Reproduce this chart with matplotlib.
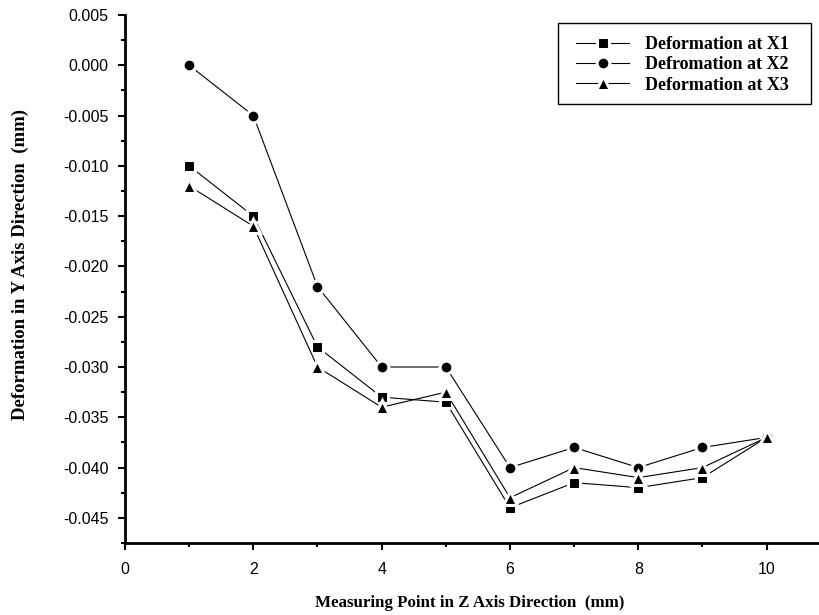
import matplotlib
matplotlib.use("Agg")
import matplotlib.pyplot as plt
from matplotlib.patches import Rectangle
from matplotlib.ticker import MultipleLocator

# measuring points along Z (mm)
z_points = [1, 2, 3, 4, 5, 6, 7, 8, 9, 10]

# deformation in Y (mm)
dx1 = [-0.010, -0.015, -0.028, -0.033, -0.0335, -0.044, -0.0415, -0.042, -0.041, -0.037]
dx2 = [0.000, -0.005, -0.022, -0.030, -0.030, -0.040, -0.038, -0.040, -0.038, -0.037]
dx3 = [-0.012, -0.016, -0.030, -0.034, -0.0325, -0.043, -0.040, -0.041, -0.040, -0.037]

labels = ["Deformation at X1", "Defromation at X2", "Deformation at X3"]
markers = ["s", "o", "^"]
sizes = [8.4, 9.2, 10.2]

serif = "Liberation Serif"
sans = "Liberation Sans"

fig = plt.figure(figsize=(8.2, 6.15), dpi=100)
ax = fig.add_axes([125 / 820, 1 - 543 / 615, (818 - 125) / 820, (543 - 15) / 615])

# white marker edges give the little gaps between lines and symbols
for ys, m, ms, lab in zip([dx1, dx2, dx3], markers, sizes, labels):
    ax.plot(z_points, ys, color="black", linewidth=0.8, marker=m,
            markersize=ms, markerfacecolor="black", markeredgecolor="white",
            markeredgewidth=2.2, label=lab)

ax.set_xlim(0, 10.8)
ax.set_ylim(-0.0475, 0.005)
ax.xaxis.set_major_locator(MultipleLocator(2))
ax.xaxis.set_minor_locator(MultipleLocator(1))
ax.yaxis.set_major_locator(MultipleLocator(0.005))
ax.yaxis.set_minor_locator(MultipleLocator(0.0025))
ax.yaxis.set_major_formatter(plt.FuncFormatter(lambda v, p: "%.3f" % v))

for s in ["top", "right"]:
    ax.spines[s].set_visible(False)
for s in ["left", "bottom"]:
    ax.spines[s].set_linewidth(2.0)

ax.tick_params(which="major", direction="out", length=5, width=1.5,
               labelsize=11.5)
ax.tick_params(axis="y", which="major", pad=7)
ax.tick_params(axis="x", which="major", pad=9)
ax.tick_params(which="minor", direction="out", length=3, width=1.5)
for t in ax.get_xticklabels() + ax.get_yticklabels():
    t.set_fontfamily(sans)

ax.set_xlabel("Measuring Point in Z Axis Direction  (mm)", fontfamily=serif,
              fontweight="bold", fontsize=12.2)
ax.set_ylabel("Deformation in Y Axis Direction  (mm)", fontfamily=serif,
              fontweight="bold", fontsize=13.5)
ax.xaxis.set_label_coords((470 - 125) / 693, -(603 - 543) / 528)
ax.yaxis.set_label_coords(-(125 - 20) / 693, (543 - 265) / 528)
ax.xaxis.label.set_va("center")
ax.yaxis.label.set_va("center")

# legend without its own frame; the box is drawn separately for the wider padding
leg = ax.legend(loc="upper left", bbox_to_anchor=(576 / 820, 1 - 36 / 615),
                bbox_transform=fig.transFigure, frameon=False,
                borderpad=0, borderaxespad=0, handlelength=2.95,
                handletextpad=0.85, labelspacing=0.18,
                prop={"family": serif, "weight": "bold", "size": 13})
fig.patches.append(Rectangle((558 / 820, 1 - 104 / 615), (811 - 558) / 820,
                             (104 - 23) / 615, transform=fig.transFigure,
                             fill=False, edgecolor="black", linewidth=1.0))

fig.savefig("out.png", dpi=100)
